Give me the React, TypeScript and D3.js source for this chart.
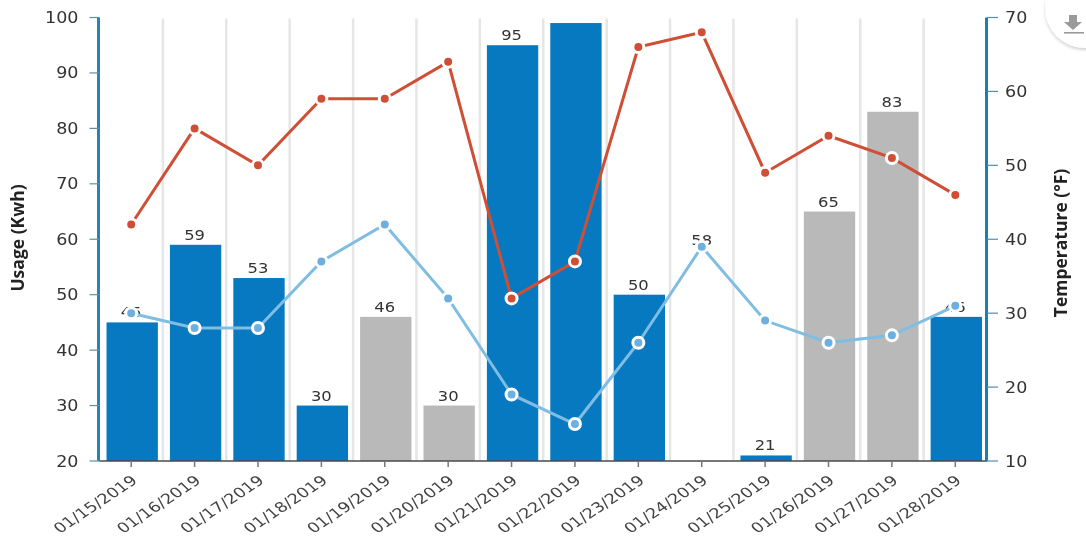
import React from "react";
import * as d3 from "d3";

const dates = ["01/15/2019","01/16/2019","01/17/2019","01/18/2019","01/19/2019","01/20/2019","01/21/2019","01/22/2019","01/23/2019","01/24/2019","01/25/2019","01/26/2019","01/27/2019","01/28/2019"];
const usage = [45,59,53,30,46,30,95,99,50,58,21,65,83,46];
const barKinds = ["a","a","a","a","g","g","a","a","a","w","a","g","g","a"];
const tempHigh = [42,55,50,59,59,64,32,37,66,68,49,54,51,46];
const tempLow = [30,28,28,37,42,32,19,15,26,39,29,26,27,31];
const usageTicks = [20,30,40,50,60,70,80,90,100];
const tempTicks = [10,20,30,40,50,60,70];
const hiddenLabels = ["01/22/2019"];

const W = 1086, H = 537;
const left = 99.5, right = 987, top = 17.5, bottom = 461;
const SX = 1.17;
const font = "'DejaVu Sans', sans-serif";
const textCol = "#333";
const barColors: Record<string, string> = { a: "#0679c0", g: "#b9b9b9", w: "#ffffff" };

export default function App() {
  const x = d3.scaleBand<string>().domain(dates).range([left, right]).paddingInner(0.19).paddingOuter(0.095);
  const yU = d3.scaleLinear().domain([20, 100]).range([bottom, top]);
  const yT = d3.scaleLinear().domain([10, 70]).range([bottom, top]);
  const cx = (d: string) => (x(d) as number) + x.bandwidth() / 2;
  const step = x.step();
  const barShift = 1;
  const line = d3.line<number>().x((_, i) => cx(dates[i])).y((v) => yT(v));
  const stretched = (px: number, py: number) => `translate(${px},${py}) scale(${SX},1)`;

  const series = [
    { values: tempHigh, color: "#cf4f36", dot: "#cf4f36" },
    { values: tempLow, color: "#80bde3", dot: "#6dafdf" },
  ];

  return (
    <svg width={W} height={H} style={{ position: "fixed", left: 0, top: 0, background: "#fff", filter: "blur(0.55px)" }}>
      <defs>
        <filter id="btnShadow" x="-30%" y="-30%" width="160%" height="160%">
          <feDropShadow dx="0" dy="2" stdDeviation="1.5" floodColor="#000" floodOpacity="0.18" />
        </filter>
      </defs>

      {dates.slice(1).map((d) => (
        <line key={d} x1={(x(d) as number) - (step - x.bandwidth()) / 2} x2={(x(d) as number) - (step - x.bandwidth()) / 2} y1={top + 1} y2={bottom} stroke="#e6e6e6" strokeWidth={2.5} />
      ))}

      {dates.map((d, i) => (
        <rect key={d} x={(x(d) as number) + barShift} y={yU(usage[i])} width={x.bandwidth()} height={bottom - yU(usage[i])} fill={barColors[barKinds[i]]} fillOpacity={barKinds[i] === "w" ? 0 : 1} />
      ))}

      {dates.map((d, i) => hiddenLabels.includes(d) ? null : (
        <text key={d} transform={stretched(cx(d), yU(usage[i]) - 5)} textAnchor="middle" fontFamily={font} fontSize={14} fill={textCol}>{usage[i]}</text>
      ))}

      {series.map((s) => (
        <g key={s.color}>
          <path d={line(s.values) as string} fill="none" stroke={s.color} strokeWidth={3} />
          {s.values.map((v, i) => (
            <circle key={i} cx={cx(dates[i])} cy={yT(v)} r={5.5} fill={s.dot} stroke="#fff" strokeWidth={3} />
          ))}
        </g>
      ))}

      <line x1={left} x2={right} y1={bottom} y2={bottom} stroke="#4a4a4a" strokeWidth={1.5} />
      {dates.map((d) => (
        <line key={d} x1={cx(d)} x2={cx(d)} y1={bottom} y2={bottom + 6} stroke="#777" strokeWidth={1.5} />
      ))}
      {dates.map((d) => (
        <g key={d} transform={`translate(${cx(d) + 4},${bottom + 18}) scale(1.27,1)`}>
          <text transform="rotate(-40)" textAnchor="end" dominantBaseline="middle" fontFamily={font} fontSize={14} fill="#444">{d}</text>
        </g>
      ))}

      <line x1={left - 1} x2={left - 1} y1={top} y2={bottom} stroke="#2a83ad" strokeWidth={3} />
      {usageTicks.map((t) => (
        <g key={t}>
          <line x1={left - 10} x2={left} y1={yU(t)} y2={yU(t)} stroke="#5f8fa8" strokeWidth={1.2} />
          <text transform={stretched(left - 21, yU(t) + 5.5)} textAnchor="end" fontFamily={font} fontSize={15} fill={textCol}>{t}</text>
        </g>
      ))}

      <line x1={right - 0.5} x2={right - 0.5} y1={top} y2={bottom} stroke="#1a7db5" strokeWidth={3} />
      {tempTicks.map((t) => (
        <g key={t}>
          <line x1={right} x2={right + 11} y1={yT(t)} y2={yT(t)} stroke="#4f8fb5" strokeWidth={1.2} />
          <text transform={stretched(right + 18, yT(t) + 5.5)} fontFamily={font} fontSize={15} fill={textCol}>{t}</text>
        </g>
      ))}

      <text transform="translate(24,238) rotate(-90)" textAnchor="middle" fontFamily="'Open Sans', sans-serif" fontWeight={700} fontSize={17.5} fill="#222">Usage (Kwh)</text>
      <text transform="translate(1067,243) rotate(-90)" textAnchor="middle" fontFamily="'Open Sans', sans-serif" fontWeight={700} fontSize={17.5} fill="#222">Temperature (°F)</text>

      <circle cx={1085} cy={8} r={40} fill="#fff" filter="url(#btnShadow)" />
      <path d="M1069,15 h8 v7 h5 l-9,8 l-9,-8 h5 z" fill="#9a9a9a" />
      <rect x={1064} y={32} width={20} height={1.6} fill="#9a9a9a" />
    </svg>
  );
}
